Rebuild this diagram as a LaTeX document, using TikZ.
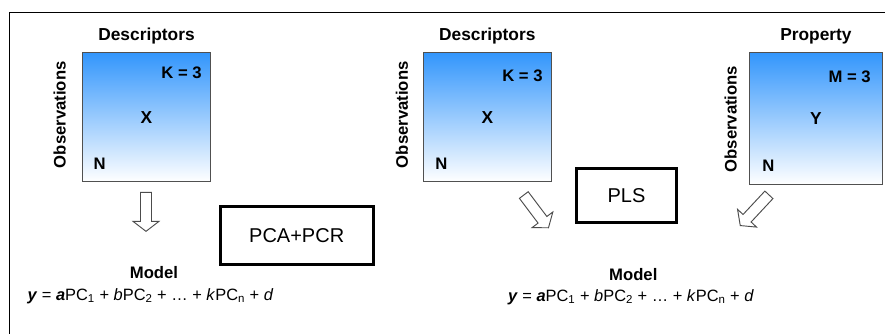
\documentclass[tikz,border=0pt]{standalone}
\usepackage{fontspec}
\setmainfont{Liberation Sans}
\usetikzlibrary{positioning}
\definecolor{blockblue}{RGB}{51,150,252}
\definecolor{blockedge}{RGB}{80,80,80}
\tikzset{
  datablock/.style={draw=blockedge,line width=0.8pt,top color=blockblue,bottom color=white,
                    minimum width=96pt,minimum height=96.75pt,inner sep=0pt,
                    font=\fontsize{13}{15}\selectfont\bfseries},
  heading/.style={inner sep=0pt,font=\fontsize{13}{15}\selectfont\bfseries},
  sidelabel/.style={inner sep=0pt,rotate=90,anchor=south,font=\fontsize{12.5}{15}\selectfont\bfseries},
  dimlabel/.style={inner sep=0pt,font=\fontsize{12.5}{15}\selectfont\bfseries},
  method/.style={draw,line width=2.4pt,inner sep=0pt,font=\fontsize{15}{18}\selectfont},
  modeltitle/.style={inner sep=0pt,anchor=base,font=\fontsize{12.5}{15}\selectfont\bfseries},
  modeleq/.style={inner sep=0pt,anchor=base,font=\fontsize{12.3}{15}\selectfont},
  frameline/.style={line width=1.1pt},
  hollowline/.style={draw=black!70,line width=0.7pt,fill=white,line join=miter},
  pics/hollow/.style={code={
    \draw[hollowline] (-5.5,0) -- (5.5,0) -- (5.5,#1-10) -- (13,#1-10) -- (0,#1)
      -- (-13,#1-10) -- (-5.5,#1-10) -- cycle;}},
}
% regression on the principal components
\newcommand{\pcreg}{\textbf{\textit{y}} = \textbf{\textit{a}}PC\textsubscript{1}
  + \textit{b}PC\textsubscript{2} + \ldots{} + \textit{k}PC\textsubscript{n}
  + \textit{d}}

\begin{document}
\begin{tikzpicture}[x=0.75pt,y=-0.75pt]
  \useasboundingbox[fill=white] (0,0) rectangle (885,333);
  \draw[frameline] (9.5,345) -- (9.5,12.5) -- (895,12.5);

  % left: descriptor block only
  \node[datablock] (mx1) at (146.5,117.3) {X};
  \node[heading,above=6pt of mx1] (desc1) {Descriptors};
  \node[sidelabel] (obs1) at ([shift={(-16,-2.5)}]mx1.west) {Observations};
  \node[dimlabel,anchor=north east] (k1) at ([shift={(-9,14.5)}]mx1.north east) {K = 3};
  \node[dimlabel,anchor=south west] (n1) at ([shift={(11.5,-12.5)}]mx1.south west) {N};
  \pic (arr1) at ([shift={(-0.5,10)}]mx1.south) {hollow=39};
  \node[method,minimum width=114.75pt,minimum height=43.5pt] (pcr) at (296.7,235.5) {PCA+PCR};
  \node[modeltitle] (mod1) at (154,278.3) {Model};
  \node[modeleq] (eq1) at (150.5,300) {\pcreg};

  % right: descriptor and property blocks
  \node[datablock] (mx2) at (487.3,117.3) {X};
  \node[heading,above=6pt of mx2] (desc2) {Descriptors};
  \node[sidelabel] (obs2) at ([shift={(-14.5,-2.5)}]mx2.west) {Observations};
  \node[dimlabel,anchor=north east] (k2) at ([shift={(-9,17)}]mx2.north east) {K = 3};
  \node[dimlabel,anchor=south west] (n2) at ([shift={(12.3,-12.5)}]mx2.south west) {N};

  \node[datablock,minimum width=99.75pt,minimum height=99pt] (my) at (815.9,118.6) {Y};
  \node[heading,above=6pt of my] (prop) {Property};
  \node[sidelabel] (obs3) at ([shift={(-11.7,0.5)}]my.west) {Observations};
  \node[dimlabel,anchor=north east] (m3) at ([shift={(-12,18.4)}]my.north east) {M = 3};
  \node[dimlabel,anchor=south west] (n3) at ([shift={(13.3,-13.3)}]my.south west) {N};

  \pic[rotate=37] (arr2) at ([shift={(36.5,12.7)}]mx2.south) {hollow=41};
  \pic[rotate=-43] (arr3) at ([shift={(-47,9.7)}]my.south) {hollow=42};
  \node[method,minimum width=75pt,minimum height=40.5pt] (pls) at (626.5,195.5) {PLS};
  \node[modeltitle] (mod2) at (633.3,280) {Model};
  \node[modeleq] (eq2) at (631,301) {\pcreg};
\end{tikzpicture}
\end{document}
